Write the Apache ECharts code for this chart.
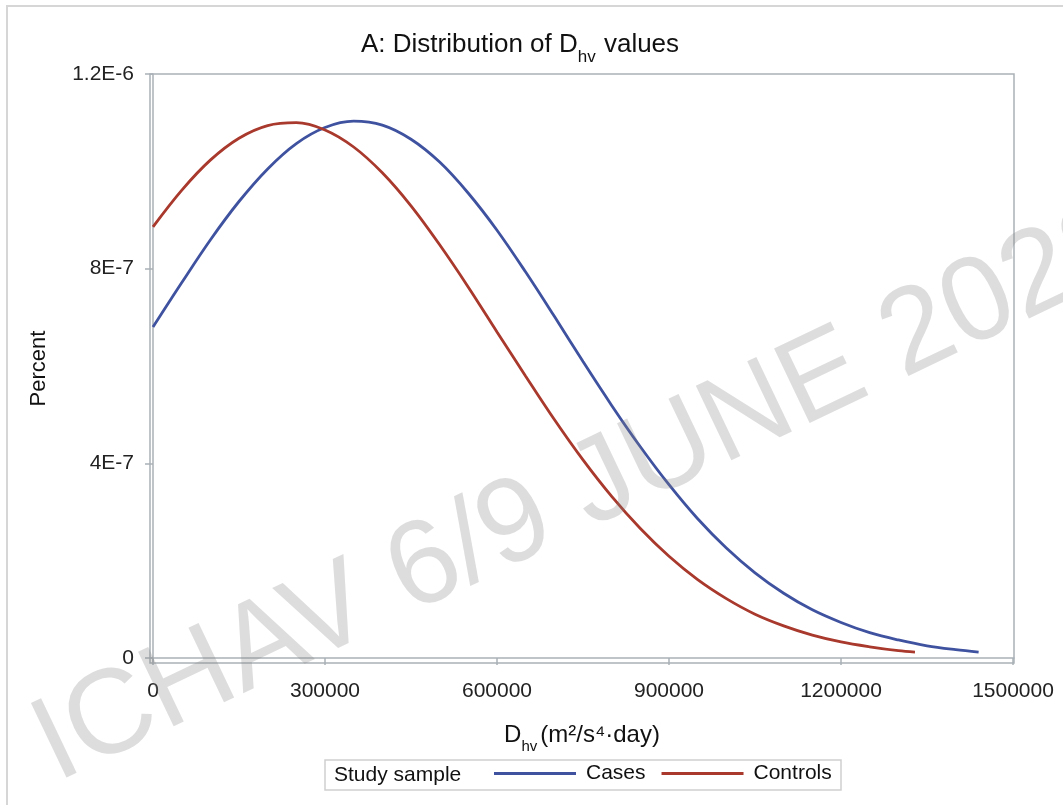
<!DOCTYPE html>
<html>
<head>
<meta charset="utf-8">
<script src="https://cdn.jsdelivr.net/npm/echarts@6/dist/echarts.min.js"></script>
<style>
html,body{margin:0;padding:0;background:#fff;}
#chart{width:1063px;height:805px;}
</style>
</head>
<body>
<div id="chart"></div>
<script>
// ---- data ----
const casesX = [0,50000,100000,150000,200000,250000,300000,350000,400000,450000,500000,550000,600000,650000,700000,750000,800000,850000,900000,950000,1000000,1050000,1100000,1150000,1200000,1250000,1300000,1350000,1400000,1440000];
const casesY = [6.80e-7,7.71e-7,8.59e-7,9.38e-7,1.005e-6,1.057e-6,1.090e-6,1.103e-6,1.095e-6,1.066e-6,1.019e-6,9.55e-7,8.79e-7,7.93e-7,7.02e-7,6.09e-7,5.19e-7,4.34e-7,3.56e-7,2.86e-7,2.26e-7,1.75e-7,1.33e-7,9.9e-8,7.3e-8,5.2e-8,3.7e-8,2.5e-8,1.7e-8,1.2e-8];
const controlsX = [0,50000,100000,150000,200000,250000,300000,350000,400000,450000,500000,550000,600000,650000,700000,750000,800000,850000,900000,950000,1000000,1050000,1100000,1150000,1200000,1250000,1300000,1329000];
const controlsY = [8.86e-7,9.61e-7,1.023e-6,1.068e-6,1.094e-6,1.100e-6,1.085e-6,1.050e-6,9.97e-7,9.29e-7,8.49e-7,7.62e-7,6.70e-7,5.79e-7,4.90e-7,4.07e-7,3.32e-7,2.66e-7,2.09e-7,1.61e-7,1.22e-7,9.0e-8,6.6e-8,4.7e-8,3.3e-8,2.3e-8,1.5e-8,1.2e-8];
const xTicks = [0,300000,600000,900000,1200000,1500000];
const yTicks = [0,4e-7,8e-7,1.2e-6];
const seriesNames = ['Cases','Controls'];
const titleParts = ['A: Distribution of D','hv',' values'];
const xNameParts = ['D','hv','(m\u00B2/s\u2074\u00B7day)'];
const yName = 'Percent';
const legendTitle = 'Study sample';
const watermark = 'ICHAV 6/9 JUNE 2022';

const FONT = '"Liberation Sans", Arial, sans-serif';
const chart = echarts.init(document.getElementById('chart'), null, {renderer:'canvas'});

function pairs(xs, ys){ return xs.map((x,i)=>[x, ys[i]]); }
function yFmt(v){ if (v === 0) return '0'; return v.toExponential().replace('e','E').replace('+',''); }

const axisColor = '#aab1b6';
const option = {
  backgroundColor: '#ffffff',
  animation: false,
  title: {
    text: '{m|' + titleParts[0] + '}{s|' + titleParts[1] + '}{m|' + titleParts[2] + '}',
    left: 356, top: 21,
    textStyle: {
      fontWeight: 'normal',
      rich: {
        m: {fontFamily: FONT, fontSize: 26, fontWeight: 'normal', color: '#111', lineHeight: 32, verticalAlign: 'bottom'},
        s: {fontFamily: FONT, fontSize: 17, fontWeight: 'normal', color: '#111', lineHeight: 32, verticalAlign: 'bottom', padding: [0,1,-8,0]}
      }
    }
  },
  grid: {left: 150, right: 49, top: 74, bottom: 142, show: true, borderColor: axisColor, borderWidth: 1.5, containLabel: false},
  xAxis: {
    type: 'value', min: -5200, max: 1501700,
    name: '{m|' + xNameParts[0] + '}{s|' + xNameParts[1] + '}{m|' + xNameParts[2] + '}',
    nameLocation: 'middle', nameGap: 56,
    nameTextStyle: {
      rich: {
        m: {fontFamily: FONT, fontSize: 24, color: '#111', lineHeight: 28, verticalAlign: 'bottom'},
        s: {fontFamily: FONT, fontSize: 15, color: '#111', lineHeight: 28, verticalAlign: 'bottom', padding: [0,3,-7,0]}
      }
    },
    axisLine: {show: true, lineStyle: {color: axisColor, width: 1.5}},
    axisTick: {show: true, length: 7, lineStyle: {color: axisColor, width: 1.5}, customValues: xTicks},
    axisLabel: {fontFamily: FONT, fontSize: 21, color: '#222', margin: 18, customValues: xTicks, formatter: v => String(v)},
    splitLine: {show: false}
  },
  yAxis: {
    type: 'value', min: -1.03e-8, max: 1.2e-6,
    name: yName, nameLocation: 'middle', nameGap: 100, nameRotate: 90,
    nameTextStyle: {fontFamily: FONT, fontSize: 22, color: '#111'},
    axisLine: {show: true, lineStyle: {color: axisColor, width: 1.5}},
    axisTick: {show: true, length: 8, lineStyle: {color: axisColor, width: 1.5}, customValues: yTicks},
    axisLabel: {fontFamily: FONT, fontSize: 21, color: '#222', margin: 16, customValues: yTicks, formatter: yFmt},
    splitLine: {show: false}
  },
  legend: {
    data: seriesNames,
    left: 494, top: 763,
    icon: 'rect', itemWidth: 82, itemHeight: 3, itemGap: 16,
    padding: 0,
    textStyle: {fontFamily: FONT, fontSize: 21, color: '#111', padding: [0,0,0,5]}
  },
  series: [
    {name: seriesNames[0], type: 'line', data: pairs(casesX, casesY), smooth: 0.35, symbol: 'none', lineStyle: {color: '#3f52a0', width: 2.8}, itemStyle: {color: '#3f52a0'}, z: 3},
    {name: seriesNames[1], type: 'line', data: pairs(controlsX, controlsY), smooth: 0.35, symbol: 'none', lineStyle: {color: '#A8392C', width: 2.8}, itemStyle: {color: '#A8392C'}, z: 3}
  ],
  graphic: [
    {type: 'rect', shape: {x: 7, y: 6, width: 1100, height: 850}, style: {fill: 'none', stroke: '#d6d6d6', lineWidth: 2}, z: 0, silent: true},
    {type: 'rect', shape: {x: 325, y: 760, width: 516, height: 30}, style: {fill: 'none', stroke: '#cfcfcf', lineWidth: 1.5}, z: 0, silent: true},
    {type: 'text', x: 334, y: 775, style: {text: legendTitle, font: '21px ' + FONT, fill: '#111', verticalAlign: 'middle', align: 'left'}, z: 5, silent: true},
    {type: 'text', x: 586, y: 493, rotation: 25.5 * Math.PI / 180,
     style: {text: watermark, font: '120px ' + FONT, fill: 'rgba(128,128,128,0.27)', align: 'center', verticalAlign: 'middle'}, z: 100, silent: true}
  ]
};
chart.setOption(option);
</script>
</body>
</html>
